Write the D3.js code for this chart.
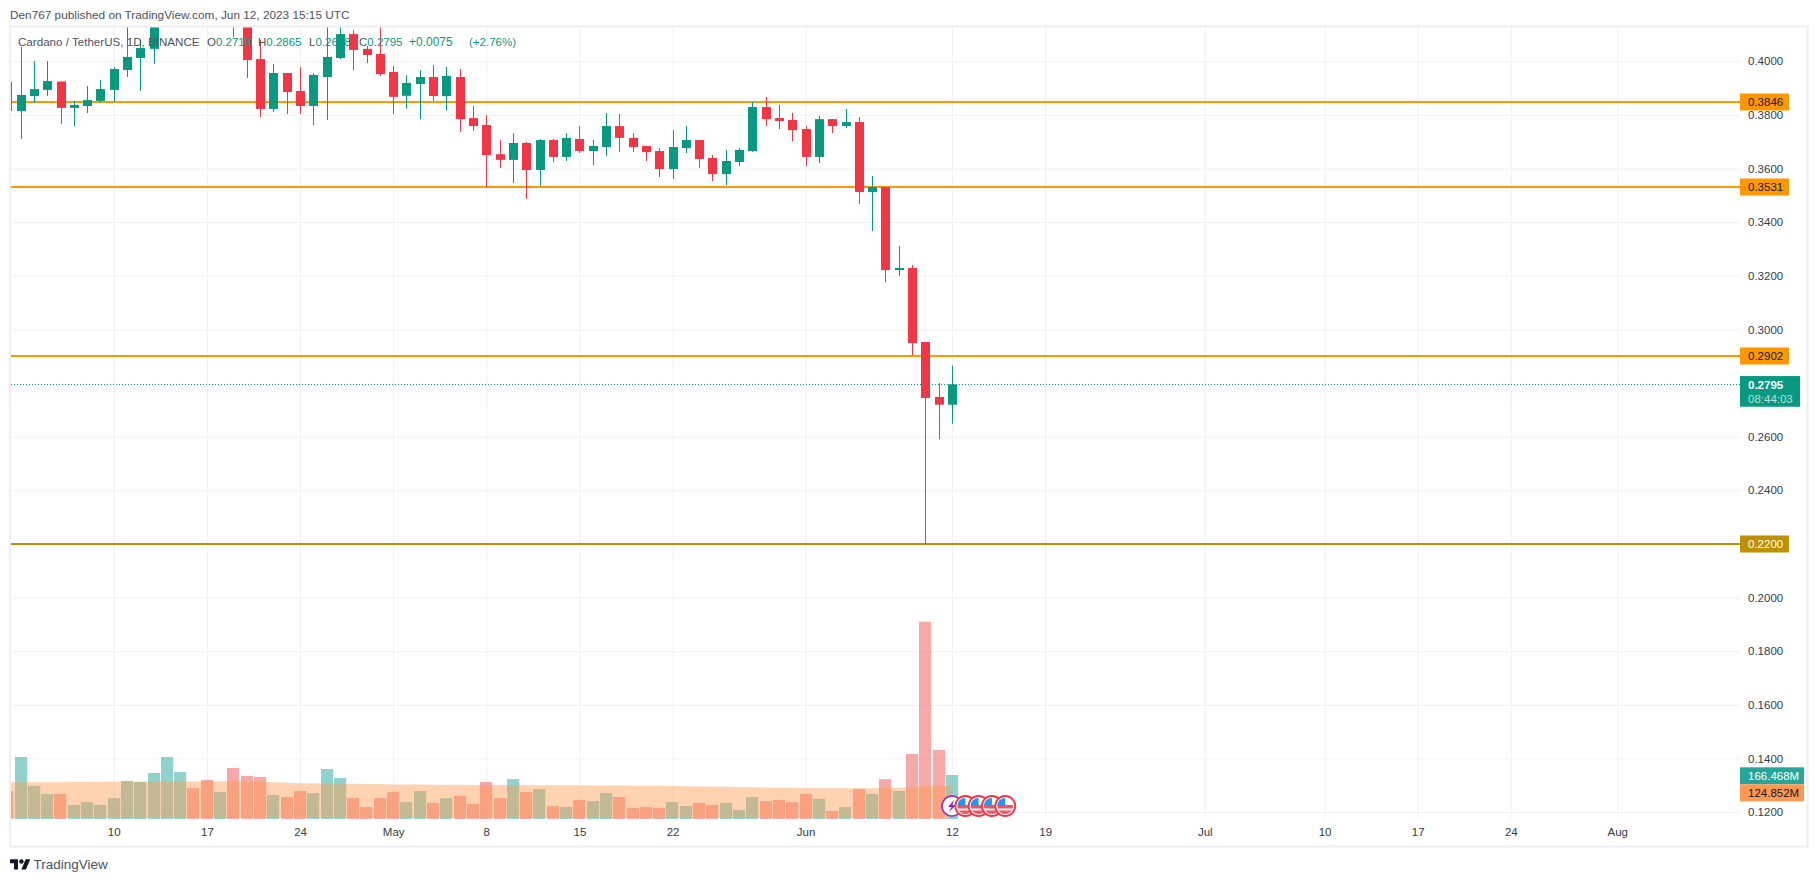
<!DOCTYPE html>
<html>
<head>
<meta charset="utf-8">
<title>Cardano / TetherUS</title>
<script src="https://cdn.jsdelivr.net/npm/d3@7"></script>
<style>
html,body{margin:0;padding:0;background:#fff;}
svg{display:block;}
text{font-family:"Liberation Sans",Arial,sans-serif;}
</style>
</head>
<body>
<svg id="c" width="1818" height="882"></svg>
<script>
// ---- data (values beyond the top of the pane are estimates) ----
const firstDay = new Date(Date.UTC(2023, 3, 2));
const lastDay = new Date(Date.UTC(2023, 5, 12));

const openValues = [
  .3924,.3814,.3870,.3893,.3924,.3826,.3833,.3852,.3893,.3967,.4012,.4046,.4180,.4400,.4480,.4420,.4300,.4450,.4200,.4008,.3822,.3956,.3889,.3833,.3941,.4012,.4101,.4046,.4027,
  .3960,.3871,.3915,.3941,.3870,.3941,.3788,.3762,.3653,.3632,.3695,.3594,.3706,.3643,.3710,.3665,.3680,.3758,.3714,.3684,.3665,.3598,.3676,.3706,.3639,.3579,.3624,.3665,.3829,.3788,.3781,
  .3747,.3643,.3784,.3758,.3773,.3512,.3531,.3221,.3229,.2953,.2748,.2719];
const highValues = [
  .3930,.4053,.4001,.4001,.3926,.3852,.3908,.3930,.3978,.4140,.4079,.4230,.4500,.4600,.4520,.4500,.4550,.4480,.4250,.4079,.3990,.3956,.3978,.3956,.4160,.4140,.4116,.4057,.4150,
  .3982,.3948,.3967,.3986,.3979,.3971,.3833,.3799,.3706,.3732,.3699,.3710,.3710,.3732,.3758,.3706,.3807,.3803,.3732,.3684,.3676,.3743,.3758,.3706,.3650,.3669,.3676,.3848,.3867,.3837,.3807,
  .3758,.3796,.3784,.3822,.3792,.3572,.3531,.3311,.3240,.2953,.2800,.2865];
const lowValues = [
  .3800,.3710,.3844,.3870,.3766,.3758,.3807,.3844,.3848,.3941,.3889,.3990,.4140,.4300,.4350,.4250,.4280,.4089,.3937,.3792,.3811,.3803,.3803,.3762,.3781,.4008,.3967,.3993,.3945,
  .3803,.3823,.3784,.3852,.3816,.3736,.3740,.3531,.3602,.3546,.3486,.3535,.3624,.3628,.3658,.3613,.3647,.3661,.3661,.3628,.3568,.3561,.3658,.3602,.3553,.3538,.3609,.3661,.3758,.3747,.3702,
  .3609,.3620,.3732,.3751,.3467,.3367,.3176,.3199,.2904,.2200,.2591,.2648];
const closeValues = [
  .3814,.3874,.3896,.3926,.3826,.3837,.3855,.3896,.3971,.4016,.4049,.4180,.4400,.4480,.4420,.4300,.4450,.4200,.4004,.3822,.3956,.3885,.3833,.3949,.4016,.4101,.4042,.4023,.3952,
  .3867,.3919,.3941,.3870,.3945,.3784,.3758,.3650,.3632,.3695,.3594,.3706,.3643,.3714,.3665,.3684,.3758,.3714,.3680,.3661,.3598,.3680,.3706,.3635,.3579,.3628,.3669,.3829,.3784,.3777,.3743,
  .3643,.3784,.3758,.3773,.3512,.3531,.3221,.3229,.2949,.2744,.2719,.2795];
const volumeValues = [
  106,234.5,125,95,95,53,64,53,79,144,140,174,234.5,178,117,148,102,193,163,159,91,83,106,98,189,155,79,45,79,
  102,64,106,61,79,87,57,140,79,151,102,113,49,45,72,68,98,83,42,45,42,64,49,61,53,61,34,83,68,72,64,
  95,76,30,45,113,95,151,106,246,746.5,261,166.468];
const volumeMAValues = [
  138.7,138.7,138.8,139,139.5,140,140.3,140.5,140.7,140.8,141,141.2,141.5,142,142.3,142.5,142.5,142.3,142,141,138.7,137,135,134.5,134,133.5,133,132.5,132,
  131,130.7,130.4,130,129.7,129.4,129,128.8,128.6,128.4,128.2,128,127.8,127.5,127.3,127,126.7,126.4,126,125.7,125.4,125,124.2,123.4,122.6,121.8,121,120.2,119.4,118.6,117.8,
  117,116.6,116.3,116,116.2,116.5,117,118,120,126,127.5,124.852];

const priceTicks = [.40,.38,.36,.34,.32,.30,.26,.24,.20,.18,.16,.14,.12];
const levelValues = [.3846,.3531,.2902,.2200];
const levelLabels = ["0.3846","0.3531","0.2902","0.2200"];
const timeTickDates = ["2023-04-10","2023-04-17","2023-04-24","2023-05-01","2023-05-08","2023-05-15","2023-05-22","2023-06-01","2023-06-12","2023-06-19","2023-07-01","2023-07-10","2023-07-17","2023-07-24","2023-08-01"];
const timeTickLabels = ["10","17","24","May","8","15","22","Jun","12","19","Jul","10","17","24","Aug"];
const flagEventDates = ["2023-06-13","2023-06-14","2023-06-15","2023-06-16"];
const lightningEventDate = "2023-06-12";
const legendOHLC = [["O","0.2719",207],["H","0.2865",258],["L","0.2648",309],["C","0.2795",359]];

// ---- layout ----
const paneL = 11, paneR = 1740, paneT = 27, paneB = 819;
const GREEN = "#089981", RED = "#f23645", ORANGE = "#ff9800", GOLD = "#bf9000", TEXT = "#363a45", GRID = "#f1f1f3";
const FONT = '"Liberation Sans",Arial,sans-serif';

const dates = d3.utcDay.range(firstDay, d3.utcDay.offset(lastDay, 1));
const bars = dates.map((d, i) => ({date: d, o: openValues[i], h: highValues[i], l: lowValues[i], c: closeValues[i], v: volumeValues[i], ma: volumeMAValues[i]}));

const x = d3.scaleUtc().domain([new Date(Date.UTC(2023,3,3)), lastDay]).range([20.6, 952]);
const y = d3.scaleLinear().domain([.12, .40]).range([812.1, 61.2]);
const vol = d3.scaleLinear().domain([0, 166.468]).range([paneB, 775]);
const parse = s => new Date(s + "T00:00:00Z");

const svg = d3.select("#c");
svg.append("defs").append("clipPath").attr("id","pane").append("rect")
  .attr("x",paneL).attr("y",paneT).attr("width",paneR-paneL).attr("height",paneB-paneT+1);
svg.append("defs").append("clipPath").attr("id","flagClip").append("circle").attr("r",8);

// grid through axes
const tickDates = timeTickDates.map(parse);
const gridY = svg.append("g").attr("transform",`translate(${paneL},0)`)
  .call(d3.axisRight(y).tickValues(priceTicks).tickSize(paneR-paneL).tickFormat(""));
const gridX = svg.append("g").attr("transform",`translate(0,${paneT})`)
  .call(d3.axisBottom(x).tickValues(tickDates).tickSize(paneB-paneT).tickFormat(""));
[gridY, gridX].forEach(g => { g.select(".domain").remove(); g.selectAll("line").attr("stroke",GRID).attr("stroke-width",1); });

const plot = svg.append("g").attr("clip-path","url(#pane)");

// volume
plot.append("g").selectAll("rect").data(bars).join("rect")
  .attr("x", d => Math.round(x(d.date) - 6.1))
  .attr("width", 12.2)
  .attr("y", d => vol(d.v))
  .attr("height", d => vol(0) - vol(d.v))
  .attr("fill", d => d.c >= d.o ? "rgba(38,166,154,.5)" : "rgba(239,83,80,.5)");

// volume moving average
plot.append("path").datum(bars)
  .attr("d", d3.area().x(d => x(d.date)).y0(vol(0) - 1).y1(d => vol(d.ma)))
  .attr("fill","#ff9850").attr("fill-opacity",.44);

// horizontal levels and last price line
const lastPx = Math.round(y(closeValues[71])) + .5;
plot.append("line").attr("x1",paneL).attr("x2",paneR).attr("y1",lastPx).attr("y2",lastPx)
  .attr("stroke",GREEN).attr("stroke-width",1).attr("stroke-dasharray","1 2");
plot.append("g").selectAll("line").data(levelValues).join("line")
  .attr("x1",paneL).attr("x2",paneR).attr("y1",d=>Math.round(y(d))).attr("y2",d=>Math.round(y(d)))
  .attr("stroke",(d,i)=> i===3 ? GOLD : ORANGE).attr("stroke-width",2);

// candles
const candle = plot.append("g").selectAll("g").data(bars).join("g")
  .attr("fill", d => d.c >= d.o ? GREEN : RED);
candle.append("rect").attr("x", d => Math.round(x(d.date))).attr("width",1)
  .attr("y", d => y(d.h)).attr("height", d => y(d.l) - y(d.h));
candle.append("rect").attr("x", d => Math.round(x(d.date)) - 4).attr("width",9)
  .attr("y", d => y(Math.max(d.o,d.c))).attr("height", d => Math.max(1.5, Math.abs(y(d.o) - y(d.c))));

// event markers
const ev = svg.append("g");
const lx = x(parse(lightningEventDate)), ey = 806;
const lg = ev.append("g").attr("transform",`translate(${lx},${ey})`);
lg.append("circle").attr("r",10).attr("fill","#fff").attr("stroke","#9c27b0").attr("stroke-width",1.5);
lg.append("path").attr("d","M2-6-4 1h3.5L-3 6 4-1H.5z").attr("fill","#9c27b0");
flagEventDates.forEach(s => {
  const g = ev.append("g").attr("transform",`translate(${x(parse(s))},${ey})`);
  g.append("circle").attr("r",10).attr("fill","#fff").attr("stroke","#f23645").attr("stroke-width",1.8);
  const f = g.append("g").attr("clip-path","url(#flagClip)");
  f.append("rect").attr("x",-8).attr("y",-8).attr("width",16).attr("height",16).attr("fill","#fff");
  f.append("rect").attr("x",-8).attr("y",-1).attr("width",16).attr("height",3.5).attr("fill","#f7525f");
  f.append("rect").attr("x",-8).attr("y",4.5).attr("width",16).attr("height",3.5).attr("fill","#f7525f");
  f.append("rect").attr("x",-8).attr("y",-8).attr("width",8).attr("height",8).attr("fill","#2196f3");
});

// frame
svg.append("rect").attr("x",10).attr("y",26.5).attr("width",1797.5).attr("height",820)
  .attr("fill","none").attr("stroke","#eeeef3").attr("stroke-width",2);

// axes
const yAxis = svg.append("g").attr("transform",`translate(${paneR},0)`)
  .call(d3.axisRight(y).tickValues(priceTicks).tickSize(0).tickPadding(8).tickFormat(d3.format(".4f")));
yAxis.select(".domain").remove();
yAxis.selectAll("text").attr("font-size",11.5).attr("fill",TEXT).style("font-family",FONT);

const xAxis = svg.append("g").attr("transform",`translate(0,${paneB})`)
  .call(d3.axisBottom(x).tickValues(tickDates).tickSize(0).tickPadding(9).tickFormat((d,i)=>timeTickLabels[i]));
xAxis.select(".domain").remove();
xAxis.selectAll("text").attr("font-size",11.5).attr("fill",TEXT).style("font-family",FONT);

// level badges
const badge = svg.append("g").selectAll("g").data(levelValues).join("g")
  .attr("transform", d => `translate(${paneR},${Math.round(y(d))})`);
badge.append("rect").attr("y",-8.5).attr("width",49).attr("height",17).attr("fill",(d,i)=> i===3 ? GOLD : ORANGE);
badge.append("text").attr("x",8).attr("dy",".35em").attr("font-size",11.5)
  .attr("fill",(d,i)=> i===3 ? "#fff" : "#131722").text((d,i)=>levelLabels[i]);

// last price badge
const lastY = y(closeValues[71]);
const lp = svg.append("g").attr("transform",`translate(${paneR},${lastY - 8.3})`);
lp.append("rect").attr("width",60).attr("height",30.7).attr("fill",GREEN);
lp.append("text").attr("x",8).attr("y",12.5).attr("font-size",11.5).attr("font-weight",700).attr("fill","#fff").text("0.2795");
lp.append("text").attr("x",8).attr("y",26.5).attr("font-size",11.5).attr("fill","#b5e0d9").text("08:44:03");

// volume badges
const vb = svg.append("g").attr("transform",`translate(${paneR},767.3)`);
vb.append("rect").attr("width",64).attr("height",17).attr("fill","#26a69a");
vb.append("text").attr("x",8).attr("y",12.7).attr("font-size",11.5).attr("fill","#fff").text("166.468M");
vb.append("rect").attr("y",17).attr("width",64).attr("height",17).attr("fill","#ff9850");
vb.append("text").attr("x",8).attr("y",29.7).attr("font-size",11.5).attr("fill","#131722").text("124.852M");

// header
svg.append("text").attr("x",10).attr("y",19).attr("font-size",11.8).attr("fill","#4c525e")
  .text("Den767 published on TradingView.com, Jun 12, 2023 15:15 UTC");
svg.append("text").attr("x",18).attr("y",46).attr("font-size",11.6).attr("fill","#4c525e")
  .text("Cardano / TetherUS, 1D, BINANCE");
legendOHLC.forEach(([k,v,px]) => {
  const t = svg.append("text").attr("x",px).attr("y",46).attr("font-size",11.5);
  t.append("tspan").attr("fill","#4c525e").text(k);
  t.append("tspan").attr("fill",GREEN).text(v);
});
svg.append("text").attr("x",409).attr("y",46).attr("font-size",12).attr("fill",GREEN).text("+0.0075");
svg.append("text").attr("x",469).attr("y",46).attr("font-size",11.5).attr("fill",GREEN).text("(+2.76%)");

// logo
const logo = svg.append("g").attr("transform","translate(10,857) scale(.57)").attr("fill","#131722");
logo.append("path").attr("d","M14 22H7V11H0V4h14v18zM28 22h-8l7.5-18h8L28 22z");
logo.append("circle").attr("cx",20).attr("cy",8).attr("r",4);
svg.append("text").attr("x",33.5).attr("y",869).attr("font-size",13.5).attr("fill","#4c525e").text("TradingView");
</script>
</body>
</html>
